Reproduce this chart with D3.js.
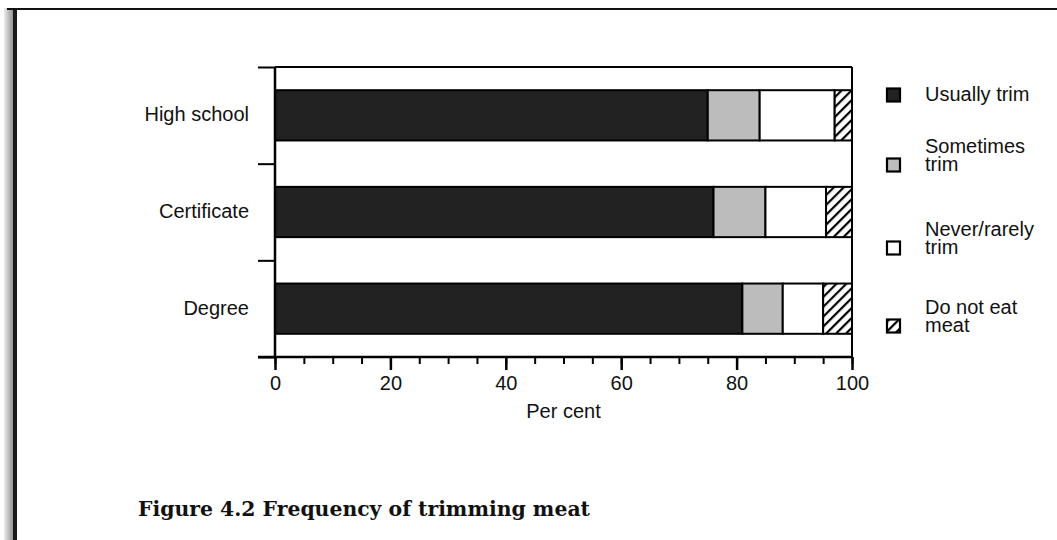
<!DOCTYPE html>
<html>
<head>
<meta charset="utf-8">
<script src="https://cdn.jsdelivr.net/npm/d3@7/dist/d3.min.js"></script>
<style>
  html, body { margin: 0; padding: 0; background: #fff; }
  svg { display: block; }
</style>
</head>
<body>
<div id="chart"></div>
<script>
// Frequency of trimming meat, by education level (per cent)

const categories = ['High school', 'Certificate', 'Degree'];
const seriesKeys = ['usually', 'sometimes', 'never', 'noMeat'];
const seriesLabels = [['Usually trim'], ['Sometimes', 'trim'], ['Never/rarely', 'trim'], ['Do not eat', 'meat']];
const usuallyTrim   = [75, 76, 81];
const sometimesTrim = [9, 9, 7];
const neverTrim     = [13, 10.5, 7];
const doNotEatMeat  = [3, 4.5, 5];
const xTicks = [0, 20, 40, 60, 80, 100];
const xMinorTicks = d3.range(0, 101, 5);

const W = 1057, H = 540;
const plot = { left: 275, right: 852, top: 67, bottom: 357 };
const SANS = '"Liberation Sans", Arial, Helvetica, sans-serif';
const FS = 20;

const rows = categories.map((c, i) => ({
  cat: c,
  usually: usuallyTrim[i],
  sometimes: sometimesTrim[i],
  never: neverTrim[i],
  noMeat: doNotEatMeat[i],
}));

const svg = d3.select('#chart').append('svg')
  .attr('width', W).attr('height', H)
  .attr('viewBox', `0 0 ${W} ${H}`);

const defs = svg.append('defs');

// hatch for "do not eat meat"
const hatch = defs.append('pattern')
  .attr('id', 'hatch')
  .attr('patternUnits', 'userSpaceOnUse')
  .attr('width', 7).attr('height', 7)
  .attr('patternTransform', 'rotate(45)');
hatch.append('rect').attr('width', 7).attr('height', 7).attr('fill', '#fff');
hatch.append('line')
  .attr('x1', 1).attr('y1', 0).attr('x2', 1).attr('y2', 7)
  .attr('stroke', '#000').attr('stroke-width', 2.4);

// scanned page edge on the left
const edge = defs.append('linearGradient').attr('id', 'edge');
edge.append('stop').attr('offset', '0%').attr('stop-color', '#ececec');
edge.append('stop').attr('offset', '100%').attr('stop-color', '#8a8a8a');

svg.append('rect').attr('x', 4).attr('y', 8).attr('width', 10).attr('height', H - 8)
  .attr('fill', 'url(#edge)');
svg.append('rect').attr('x', 13).attr('y', 8).attr('width', 4).attr('height', H - 8)
  .attr('fill', '#1a1a1a');
svg.append('line')
  .attr('x1', 7).attr('y1', 9).attr('x2', W).attr('y2', 9)
  .attr('stroke', '#111').attr('stroke-width', 2.2);

const fills = {
  usually: '#222222',
  sometimes: '#bcbcbc',
  never: '#ffffff',
  noMeat: 'url(#hatch)',
};

const x = d3.scaleLinear().domain([0, 100]).range([plot.left, plot.right]);
const y = d3.scaleBand().domain(categories)
  .range([plot.top, plot.bottom])
  .paddingInner(0.48).paddingOuter(0.24);
const yEdges = d3.scaleLinear().domain([0, categories.length]).range([plot.top, plot.bottom]);

const stacked = d3.stack().keys(seriesKeys)(rows);

const g = svg.append('g');

// bars
g.selectAll('g.series')
  .data(stacked)
  .join('g')
  .attr('class', 'series')
  .attr('fill', d => fills[d.key])
  .selectAll('rect')
  .data(d => d)
  .join('rect')
  .attr('x', d => x(d[0]))
  .attr('y', d => y(d.data.cat))
  .attr('width', d => x(d[1]) - x(d[0]))
  .attr('height', y.bandwidth())
  .attr('stroke', '#000')
  .attr('stroke-width', 2);

// plot frame: top and right
g.append('line')
  .attr('x1', plot.left).attr('y1', plot.top).attr('x2', plot.right).attr('y2', plot.top)
  .attr('stroke', '#000').attr('stroke-width', 2);
g.append('line')
  .attr('x1', plot.right).attr('y1', plot.top).attr('x2', plot.right).attr('y2', plot.bottom)
  .attr('stroke', '#000').attr('stroke-width', 2);

// left axis: ticks at category boundaries
const leftAxis = g.append('g')
  .attr('transform', `translate(${plot.left},0)`)
  .call(d3.axisLeft(yEdges).tickValues(d3.range(0, categories.length + 1))
    .tickSize(17).tickFormat(''));
leftAxis.selectAll('path, line').attr('stroke', '#000').attr('stroke-width', 2);
leftAxis.select('.domain').attr('d', `M0,${plot.top}V${plot.bottom}`).attr('stroke-width', 2.5);

// category labels
g.selectAll('text.cat')
  .data(categories)
  .join('text')
  .attr('class', 'cat')
  .attr('x', plot.left - 26)
  .attr('y', d => y(d) + y.bandwidth() / 2 + 6)
  .attr('text-anchor', 'end')
  .attr('font-family', SANS)
  .attr('font-size', FS)
  .attr('fill', '#111')
  .text(d => d);

// bottom axis: minor ticks every 5, major every 20
const minorAxis = g.append('g')
  .attr('transform', `translate(0,${plot.bottom})`)
  .call(d3.axisBottom(x).tickValues(xMinorTicks).tickSize(7).tickFormat(''));
minorAxis.select('.domain').remove();
minorAxis.selectAll('line').attr('stroke', '#000').attr('stroke-width', 2);

const xAxis = g.append('g')
  .attr('transform', `translate(0,${plot.bottom})`)
  .call(d3.axisBottom(x).tickValues(xTicks).tickSize(13).tickPadding(6).tickFormat(d3.format('d')));
xAxis.select('.domain').attr('d', `M${plot.left - 17},0H${plot.right}`)
  .attr('stroke', '#000').attr('stroke-width', 2.5);
xAxis.selectAll('line').attr('stroke', '#000').attr('stroke-width', 2.5);
xAxis.selectAll('text')
  .attr('font-family', SANS)
  .attr('font-size', FS)
  .attr('fill', '#111');

svg.append('text')
  .attr('x', (plot.left + plot.right) / 2)
  .attr('y', 418)
  .attr('text-anchor', 'middle')
  .attr('font-family', SANS)
  .attr('font-size', FS)
  .attr('fill', '#111')
  .text('Per cent');

// legend
const legendTop = [95, 165, 248, 326];
const legend = svg.append('g');
seriesKeys.forEach((key, i) => {
  const item = legend.append('g').attr('transform', `translate(0,${legendTop[i]})`);
  item.append('rect')
    .attr('x', 887).attr('y', -6.5)
    .attr('width', 13).attr('height', 13)
    .attr('fill', fills[key])
    .attr('stroke', '#000').attr('stroke-width', 2.2);
  const lines = seriesLabels[i];
  const label = item.append('text')
    .attr('x', 925)
    .attr('y', lines.length === 1 ? 6 : -12)
    .attr('font-family', SANS)
    .attr('font-size', FS)
    .attr('fill', '#111');
  lines.forEach((txt, j) => {
    label.append('tspan')
      .attr('x', 925)
      .attr('dy', j === 0 ? 0 : 17.5)
      .text(txt);
  });
});

// caption
svg.append('text')
  .attr('x', 138)
  .attr('y', 516)
  .attr('font-family', '"DejaVu Serif", "Liberation Serif", serif')
  .attr('font-weight', 'bold')
  .attr('font-size', 20)
  .attr('textLength', 452)
  .attr('lengthAdjust', 'spacingAndGlyphs')
  .attr('fill', '#111')
  .text('Figure 4.2 Frequency of trimming meat');
</script>
</body>
</html>
